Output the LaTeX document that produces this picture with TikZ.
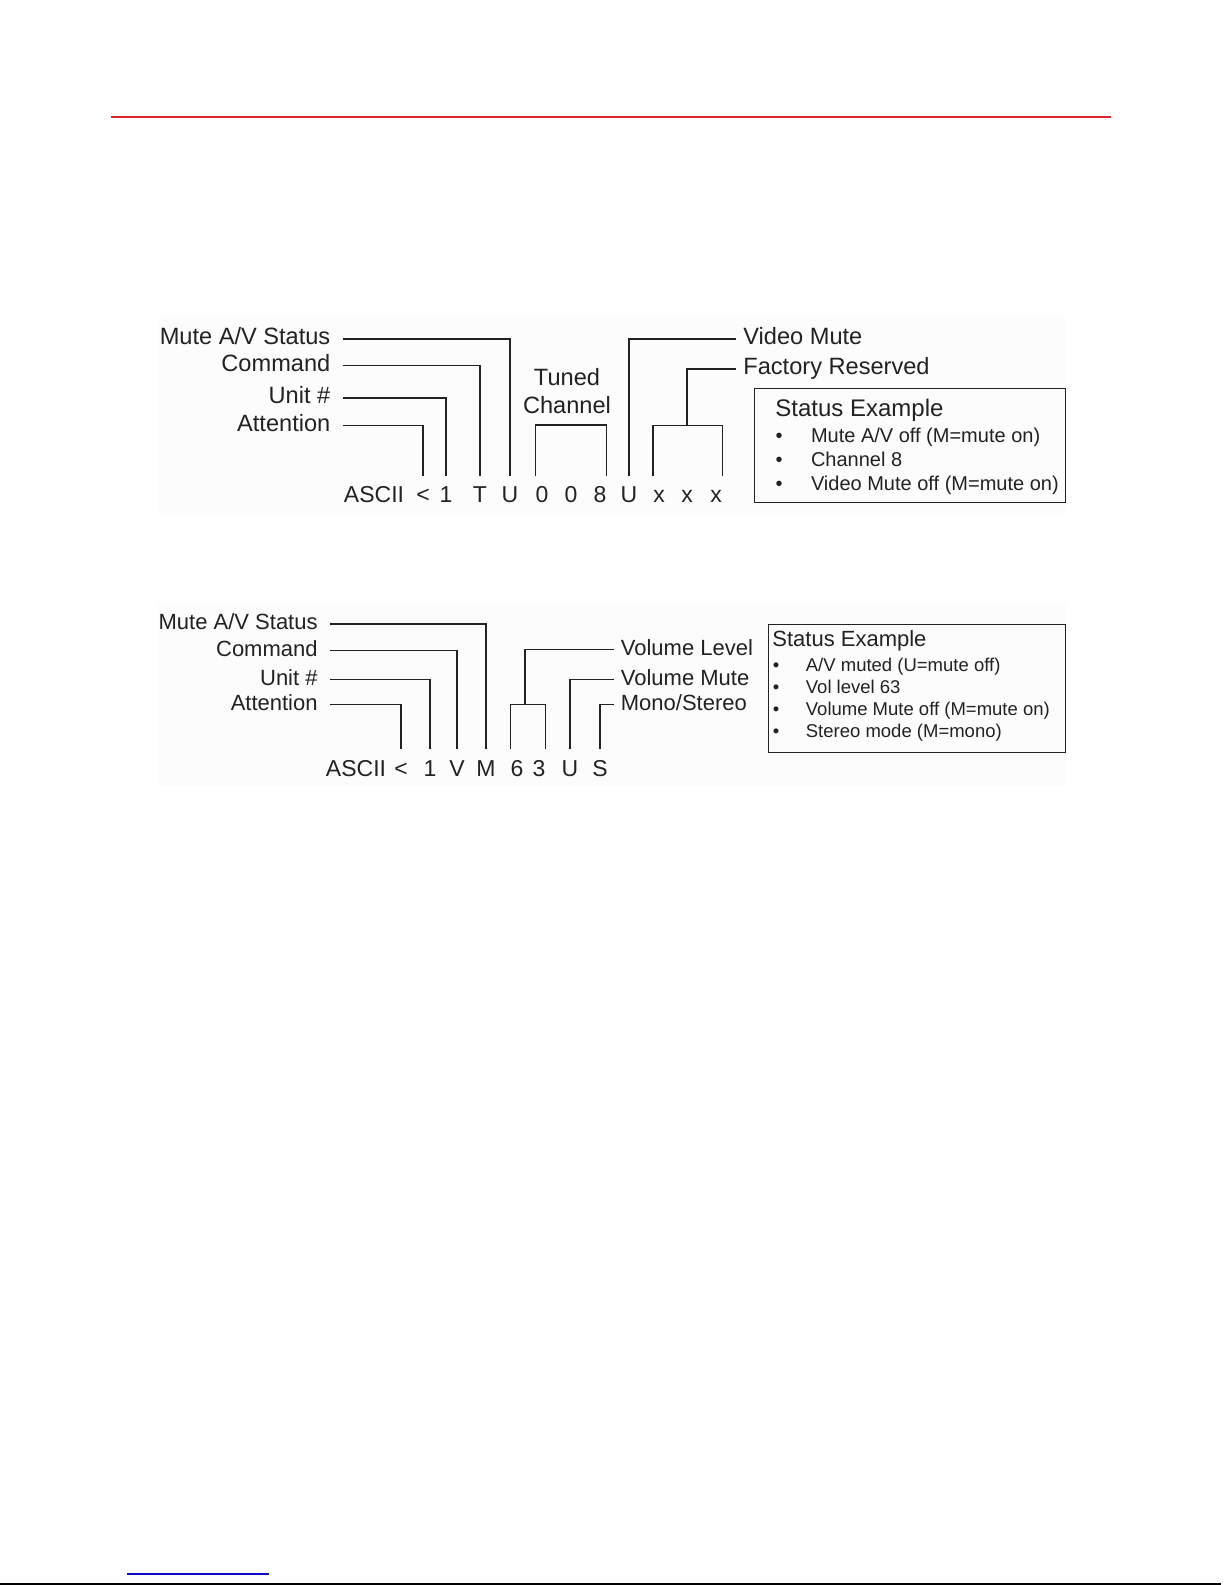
\documentclass[tikz,border=0pt]{standalone}
\usepackage{fontspec}
\setmainfont{Liberation Sans}
\usetikzlibrary{positioning, calc}
\definecolor{rulered}{HTML}{E4262B}
\definecolor{linkblue}{HTML}{0A0ACC}
\definecolor{ink}{HTML}{222222}
\definecolor{panel}{HTML}{FCFCFC}
\newcommand{\lfont}{\fontsize{11.8}{14}\selectfont}
\newcommand{\chfont}{\fontsize{11.5}{14}\selectfont}
\newcommand{\sfont}{\fontsize{11}{13}\selectfont}
\newcommand{\bfnt}{\fontsize{10}{12}\selectfont}
\newcommand{\cfnt}{\fontsize{9.25}{11}\selectfont}

\begin{document}
\begin{tikzpicture}[x=0.5pt, y=-0.5pt,
    lbl/.style={anchor=east, inner xsep=6pt, inner ysep=0pt, text height=8.3pt, text depth=2.4pt, color=ink},
    rlbl/.style={anchor=west, inner xsep=3.5pt, inner ysep=0pt, text height=8.3pt, text depth=2.4pt, color=ink},
    chr/.style={anchor=base, font=\chfont, inner xsep=0pt, inner ysep=5pt, text height=8.3pt, text depth=0pt, color=ink},
    ln/.style={draw=ink, line width=0.65pt},
    sbox/.style={draw=ink, line width=0.65pt, anchor=north west, inner sep=0pt},
    txt/.style={anchor=base west, inner sep=0pt, color=ink},
    dot/.style={anchor=base, inner sep=0pt, color=ink},
]
\useasboundingbox (0,0) rectangle (1225,1585);
\fill[panel] (158,317) rectangle (1066,513);
\fill[panel] (158,603) rectangle (1066,786);
\draw[rulered, line width=0.8pt] (111,117) -- (1111,117);
\draw[linkblue, line width=0.7pt] (127,1574) -- (269,1574);
\draw[black, line width=1pt] (0,1583.5) -- (1221,1583.5);

% status string, TV
\node[chr] (asc1) at (374,502.7) {ASCII};
\node[chr] (lt1) at (423,502.7) {<};
\node[chr] (one1) at (446,502.7) {1};
\node[chr] (cmd1) at (480,502.7) {T};
\node[chr] (mu1) at (510,502.7) {U};
\node[chr] (ch0a) at (542,502.7) {0};
\node[chr] (ch0b) at (571,502.7) {0};
\node[chr] (ch8) at (600,502.7) {8};
\node[chr] (vm1) at (629,502.7) {U};
\node[chr] (fx1) at (659,502.7) {x};
\node[chr] (fx2) at (687,502.7) {x};
\node[chr] (fx3) at (716,502.7) {x};
\node[lbl, font=\lfont] (lmute1) at (342.7,339) {Mute A/V Status};
\node[lbl, font=\lfont] (lcmd1) at (342.7,365.7) {Command};
\node[lbl, font=\lfont] (lunit1) at (342.7,398) {Unit \#};
\node[lbl, font=\lfont] (latt1) at (342.7,425.7) {Attention};
\node[rlbl, font=\lfont] (lvid) at (736,339) {Video Mute};
\node[rlbl, font=\lfont] (lfac) at (736,369) {Factory Reserved};
\node[anchor=base, inner sep=0pt, font=\lfont, color=ink] (chan) at (567,413) {Channel};
\node[anchor=base, inner sep=0pt, font=\lfont, color=ink] (tuned) at (567,385) {Tuned};
\coordinate (tch) at (570,425);
\coordinate (fxtop) at (687,425.5);
\draw[ln] (latt1.east) -| (lt1.north);
\draw[ln] (lunit1.east) -| (one1.north);
\draw[ln] (lcmd1.east) -| (cmd1.north);
\draw[ln] (lmute1.east) -| (mu1.north);
\draw[ln] (ch0a.north west) |- (tch) -| (ch8.north east);
\draw[ln] (vm1.north) |- (lvid.west);
\draw[ln] (fx1.north west) |- (fxtop) -| (fx3.north east);
\draw[ln] (fxtop) |- (lfac.west);
\node[sbox, minimum width=155.5pt, minimum height=56.75pt] (st1) at (754,388) {};
\node[txt, font=\fontsize{12}{14}\selectfont] (st1t) at (775,416.5) {Status Example};
\node[dot, font=\bfnt] (d11) at (779,442) {•};
\node[txt, font=\bfnt] (s11) at (810.6,442) {Mute A/V off (M=mute on)};
\node[dot, font=\bfnt] (d12) at (779,466.5) {•};
\node[txt, font=\bfnt] (s12) at (810.6,466.5) {Channel 8};
\node[dot, font=\bfnt] (d13) at (779,490.5) {•};
\node[txt, font=\bfnt] (s13) at (810.6,490.5) {Video Mute off (M=mute on)};

% status string, volume
\node[chr] (asc2) at (356,776) {ASCII};
\node[chr] (lt2) at (401,776) {<};
\node[chr] (one2) at (430,776) {1};
\node[chr] (cmd2) at (457,776) {V};
\node[chr] (mu2) at (486,776) {M};
\node[chr] (six) at (517,776) {6};
\node[chr] (three) at (539,776) {3};
\node[chr] (vmu) at (570,776) {U};
\node[chr] (ster) at (600,776) {S};
\node[lbl, font=\sfont] (lmute2) at (330,624) {Mute A/V Status};
\node[lbl, font=\sfont] (lcmd2) at (330,650.7) {Command};
\node[lbl, font=\sfont] (lunit2) at (330,679.3) {Unit \#};
\node[lbl, font=\sfont] (latt2) at (330,704.3) {Attention};
\node[rlbl, font=\sfont] (lvol) at (613.5,649.3) {Volume Level};
\node[rlbl, font=\sfont] (lvmu) at (613.5,679.3) {Volume Mute};
\node[rlbl, font=\sfont] (lmono) at (613.5,704.3) {Mono/Stereo};
\coordinate (vtop) at (525,704.3);
\draw[ln] (latt2.east) -| (lt2.north);
\draw[ln] (lunit2.east) -| (one2.north);
\draw[ln] (lcmd2.east) -| (cmd2.north);
\draw[ln] (lmute2.east) -| (mu2.north);
\draw[ln] (six.north west) |- (vtop) -| (three.north east);
\draw[ln] (vtop) |- (lvol.west);
\draw[ln] (vmu.north) |- (lvmu.west);
\draw[ln] (ster.north) |- (lmono.west);
\node[sbox, minimum width=148.5pt, minimum height=64pt] (st2) at (768,624) {};
\node[txt, font=\sfont] (st2t) at (772,646.5) {Status Example};
\node[dot, font=\cfnt] (d21) at (776,671.5) {•};
\node[txt, font=\cfnt] (s21) at (805.5,671.5) {A/V muted (U=mute off)};
\node[dot, font=\cfnt] (d22) at (776,693) {•};
\node[txt, font=\cfnt] (s22) at (805.5,693) {Vol level 63};
\node[dot, font=\cfnt] (d23) at (776,715) {•};
\node[txt, font=\cfnt] (s23) at (805.5,715) {Volume Mute off (M=mute on)};
\node[dot, font=\cfnt] (d24) at (776,737.5) {•};
\node[txt, font=\cfnt] (s24) at (805.5,737.5) {Stereo mode (M=mono)};
\end{tikzpicture}
\end{document}
